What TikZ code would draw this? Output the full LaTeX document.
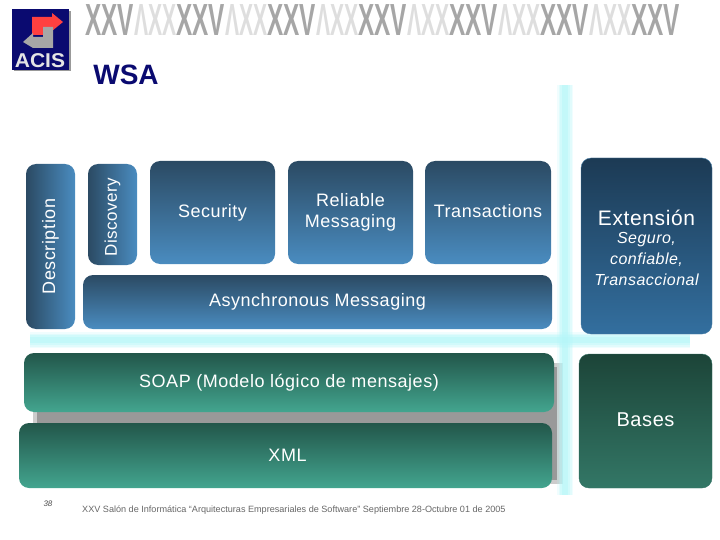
\documentclass[tikz,border=0pt]{standalone}
\usepackage{fontspec}
\setmainfont{Liberation Sans}
\newfontfamily\boxfont[LetterSpace=3]{Liberation Sans}
\usetikzlibrary{positioning}
\definecolor{acisnavy}{HTML}{0A0A70}
\definecolor{glowcyan}{HTML}{B4F6F8}
\definecolor{bluetop}{HTML}{2B4A63}
\definecolor{bluebot}{HTML}{4A8CC0}
\definecolor{deepbluetop}{HTML}{1C3A54}
\definecolor{deepbluebot}{HTML}{336F9F}
\definecolor{deepblueline}{HTML}{467DA5}
\definecolor{greentop}{HTML}{22564A}
\definecolor{greenbot}{HTML}{43A58F}
\definecolor{deepgreentop}{HTML}{1C4438}
\definecolor{deepgreenbot}{HTML}{337766}
\definecolor{deepgreenline}{HTML}{327364}
\newcommand{\subtext}{\itshape\fontsize{16}{18.5}\selectfont}
\tikzset{
    %Define style for boxes
    blockbox/.style={
           rectangle,
           rounded corners=10pt,
           text=white,
           align=center,
           font=\boxfont\fontsize{18}{21}\selectfont,
           inner sep=0pt},
    bluebox/.style={
           blockbox,
           top color=bluetop,
           bottom color=bluebot},
    sidebox/.style={
           blockbox,
           left color=bluetop,
           right color=bluebot},
    deepbluebox/.style={
           blockbox,
           draw=deepblueline,
           top color=deepbluetop,
           bottom color=deepbluebot},
    greenbox/.style={
           blockbox,
           top color=greentop,
           bottom color=greenbot},
    deepgreenbox/.style={
           blockbox,
           draw=deepgreenline,
           top color=deepgreentop,
           bottom color=deepgreenbot},
    %Define style for the XXV strip
    strip/.style={
           anchor=west,
           inner sep=0pt,
           font=\bfseries\fontsize{45}{45}\selectfont}
}
\begin{document}
\begin{tikzpicture}[x=1pt,y=-1pt]
\useasboundingbox (0,0) rectangle (720,540);
% header strip
\foreach \i/\xpos in {0/85,1/176,2/267,3/358,4/449,5/540,6/631}{
  \node[strip, xscale=.54, text=black!35] (xxv\i) at (\xpos,20) {XXV};
}
\foreach \i/\xpos in {0/134,1/225,2/316,3/407,4/498,5/589}{
  \node[strip, xscale=.47, text=black!13] (xx\i) at (\xpos,20) {ΛXX};
}
% logo
\fill[black!40] (14,11) rectangle (71,71);
\fill[acisnavy] (12,9) rectangle (69,70);
\fill[red!75!white] (32,17) -- (52,17) -- (52,13) -- (63,22) -- (52,31) -- (52,27) -- (43,27) -- (43,35) -- (32,35) -- cycle;
\fill[black!35] (23,42) -- (33,33) -- (33,37) -- (43,37) -- (43,27) -- (53,27) -- (53,48) -- (33,48) -- cycle;
\node[text=black!10, xscale=1.05, font=\bfseries\fontsize{20}{20}\selectfont, inner sep=0pt] (acis) at (40,61) {ACIS};
% title
\node[text=acisnavy, font=\bfseries\fontsize{28}{28}\selectfont, inner sep=0pt] (wsa) at (126,75) {WSA};
% shadow behind lower blocks
\fill[black!40, opacity=.5] (33,363) rectangle (563,484);
\fill[black!40] (37,367) rectangle (557,480);
% glow bars
\foreach \w/\o in {16/.2,13/.25,10/.35,6/.5}{
  \draw[line width=\w pt, glowcyan, opacity=\o] (565,85) -- (565,495);
  \draw[line width=\w pt, glowcyan, opacity=\o] (30,340) -- (690,340);
}
% blocks
\node[sidebox, rotate=90, minimum width=165pt, minimum height=49pt] (description) at (50.5,246.5) {Description};
\node[sidebox, rotate=90, minimum width=101pt, minimum height=49pt, font=\boxfont\fontsize{17}{21}\selectfont] (discovery) at (112.5,214.5) {Discovery\hspace*{5pt}};
\node[bluebox, minimum width=125pt, minimum height=103pt] (security) at (212.5,212.5) {Security};
\node[bluebox, minimum width=125pt, minimum height=103pt] (reliable) at (350.5,212.5) {Reliable\\Messaging};
\node[bluebox, minimum width=126pt, minimum height=103pt] (transactions) at (488,212.5) {\vphantom{y}Transactions};
\node[bluebox, minimum width=469pt, minimum height=54pt] (async) at (317.5,302) {Asynchronous Messaging};
\node[deepbluebox, minimum width=131pt, minimum height=176pt] (extension) at (646.5,246) {\fontsize{21}{21}\selectfont\rule{0pt}{20pt}Extensión\\[-3pt]\subtext Seguro,\\\subtext confiable,\\\subtext Transaccional};
\node[greenbox, minimum width=530pt, minimum height=59pt] (soap) at (289,382.5) {\vphantom{(y}SOAP (Modelo lógico de mensajes)};
\node[greenbox, minimum width=533pt, minimum height=65pt] (xml) at (285.5,455.5) {\hspace*{4pt}XML};
\node[deepgreenbox, minimum width=133pt, minimum height=134pt] (bases) at (645.5,421) {\raisebox{2pt}{\fontsize{20}{20}\selectfont Bases}};
% footer
\node[text=black!70, font=\itshape\fontsize{8}{8}\selectfont, inner sep=0pt] (pagenum) at (48,504) {38};
\node[anchor=west, text=black!60, font=\fontsize{9.1}{9.1}\selectfont, inner sep=0pt] (footer) at (82,510) {XXV  Salón de Informática “Arquitecturas Empresariales de Software” Septiembre 28-Octubre 01 de 2005};
\end{tikzpicture}
\end{document}
